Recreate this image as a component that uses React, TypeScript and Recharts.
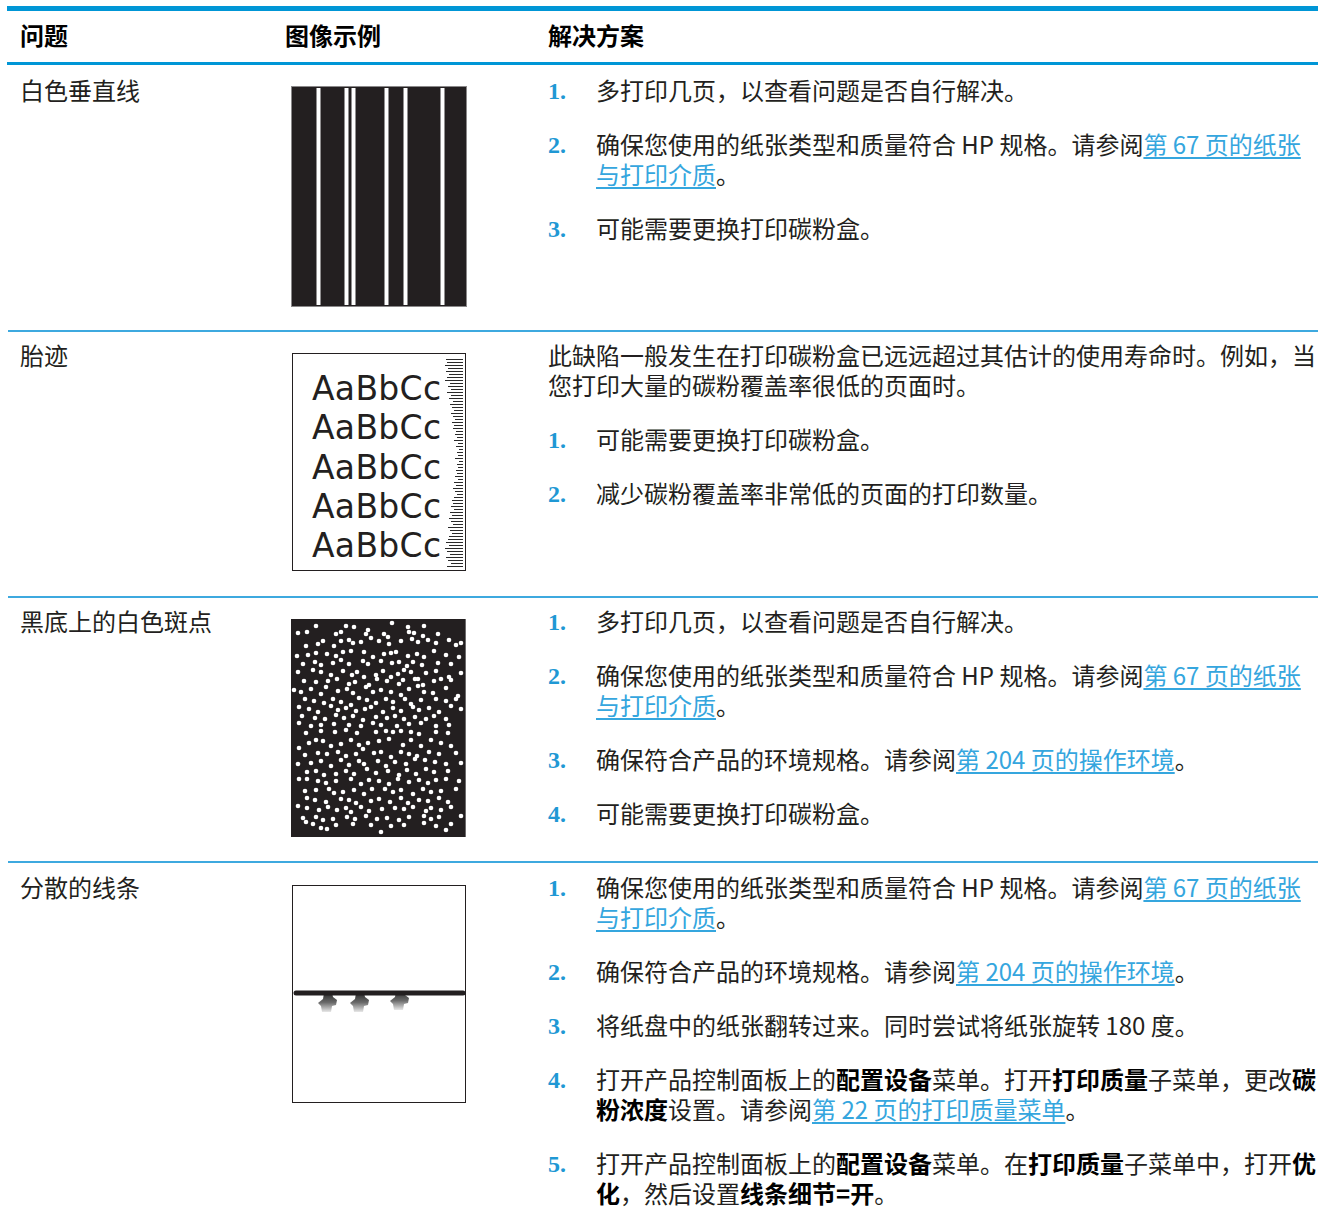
import React from 'react';
import {
  BarChart, Bar, XAxis, YAxis, ScatterChart, Scatter,
} from 'recharts';

const headers = ['问题', '图像示例', '解决方案'];
const problems = ['白色垂直线', '胎迹', '黑底上的白色斑点', '分散的线条'];

// solution text: **bold**, [[link]], \n = forced line break
const intro2 = '此缺陷一般发生在打印碳粉盒已远远超过其估计的使用寿命时。例如，当\n您打印大量的碳粉覆盖率很低的页面时。';
const steps1 = [
  '多打印几页，以查看问题是否自行解决。',
  '确保您使用的纸张类型和质量符合 HP 规格。请参阅[[第 67 页的纸张]]\n[[与打印介质]]。',
  '可能需要更换打印碳粉盒。',
];
const steps2 = [
  '可能需要更换打印碳粉盒。',
  '减少碳粉覆盖率非常低的页面的打印数量。',
];
const steps3 = [
  '多打印几页，以查看问题是否自行解决。',
  '确保您使用的纸张类型和质量符合 HP 规格。请参阅[[第 67 页的纸张]]\n[[与打印介质]]。',
  '确保符合产品的环境规格。请参阅[[第 204 页的操作环境]]。',
  '可能需要更换打印碳粉盒。',
];
const steps4 = [
  '确保您使用的纸张类型和质量符合 HP 规格。请参阅[[第 67 页的纸张]]\n[[与打印介质]]。',
  '确保符合产品的环境规格。请参阅[[第 204 页的操作环境]]。',
  '将纸盘中的纸张翻转过来。同时尝试将纸张旋转 180 度。',
  '打开产品控制面板上的**配置设备**菜单。打开**打印质量**子菜单，更改**碳**\n**粉浓度**设置。请参阅[[第 22 页的打印质量菜单]]。',
  '打开产品控制面板上的**配置设备**菜单。在**打印质量**子菜单中，打开**优**\n**化**，然后设置**线条细节=开**。',
];

// sample 1: x positions of the white streaks (px across a 176px page)
const whiteLines = [27, 55, 62, 95, 114, 151];

// sample 2: lengths of the little rule marks down the right edge
const ladder = [
  17, 16, 18, 15, 17, 14, 16, 18, 13, 15, 12, 16,
  12, 14, 10, 13, 11, 9, 12, 10, 8, 11, 9, 10,
  7, 8, 6, 9, 5, 7, 4, 6, 5, 8, 4, 6,
  5, 7, 6, 8, 5, 9, 7, 10, 8, 6, 9, 11,
  10, 12, 9, 13, 11, 14, 12, 10, 15, 13, 11, 14,
  15, 17, 14, 18, 16, 13, 17, 15, 12, 16,
];
const sampleText = ['AaBbCc', 'AaBbCc', 'AaBbCc', 'AaBbCc', 'AaBbCc'];

// sample 3: white specks, [x, y] in px on a 176x218 page
const specks = [
  [25, 7], [55, 7], [63, 8], [101, 4], [117, 8], [133, 7],
  [7, 14], [16, 13], [45, 15], [50, 13], [75, 15], [77, 11], [93, 15], [97, 18], [118, 13], [123, 14], [132, 17], [147, 15], [170, 24],
  [15, 27], [27, 25], [32, 22], [43, 27], [50, 22], [58, 21], [62, 24], [70, 23], [80, 19], [88, 22], [98, 25], [110, 22], [121, 20], [127, 23], [137, 21], [145, 24], [158, 21], [165, 26],
  [6, 37], [17, 36], [25, 34], [36, 35], [45, 37], [52, 33], [60, 32], [73, 33], [82, 38], [93, 35], [100, 34], [105, 33], [117, 37], [126, 35], [133, 38], [143, 32], [155, 36], [168, 38],
  [12, 45], [24, 43], [30, 46], [42, 44], [50, 41], [58, 45], [72, 42], [77, 45], [90, 42], [101, 44], [108, 43], [116, 47], [122, 43], [131, 46], [147, 44], [160, 45],
  [7, 53], [22, 51], [30, 53], [40, 56], [52, 52], [61, 56], [66, 53], [73, 58], [85, 56], [92, 52], [100, 58], [107, 55], [113, 51], [120, 53], [127, 60], [135, 54], [145, 52], [158, 58], [170, 54],
  [13, 62], [25, 63], [37, 62], [46, 60], [58, 65], [64, 63], [78, 66], [86, 60], [96, 62], [108, 65], [112, 61], [124, 60], [132, 66], [143, 62], [150, 60], [160, 61],
  [3, 71], [10, 73], [20, 70], [30, 75], [35, 68], [47, 72], [56, 70], [62, 74], [75, 68], [82, 73], [90, 71], [100, 73], [110, 76], [118, 70], [127, 67], [133, 73], [142, 74], [155, 69], [167, 77],
  [14, 80], [23, 82], [33, 84], [42, 80], [50, 83], [60, 86], [68, 79], [76, 81], [85, 84], [95, 80], [102, 83], [114, 80], [120, 85], [130, 81], [145, 80], [155, 82], [165, 80],
  [8, 88], [18, 90], [27, 93], [40, 87], [47, 91], [55, 89], [65, 92], [74, 90], [80, 88], [92, 93], [102, 89], [110, 92], [122, 88], [128, 91], [138, 89], [148, 93], [160, 87], [170, 90],
  [11, 97], [24, 99], [34, 100], [45, 96], [53, 99], [62, 97], [72, 101], [85, 98], [96, 99], [104, 97], [113, 100], [124, 98], [135, 100], [143, 97], [155, 100],
  [8, 104], [20, 107], [30, 106], [43, 105], [58, 106], [70, 107], [82, 104], [90, 106], [106, 107], [118, 105], [130, 104], [145, 107], [158, 106],
  [15, 114], [30, 112], [44, 113], [55, 111], [66, 114], [85, 113], [95, 112], [102, 113], [110, 112], [120, 113], [128, 115], [145, 113], [157, 114],
  [8, 129], [18, 124], [25, 121], [32, 122], [40, 127], [50, 125], [60, 121], [68, 126], [77, 124], [88, 122], [98, 120], [112, 126], [120, 121], [130, 127], [140, 121], [150, 124], [160, 127],
  [14, 136], [27, 134], [36, 135], [47, 133], [55, 137], [65, 135], [72, 130], [83, 134], [90, 133], [100, 138], [110, 133], [118, 135], [126, 137], [138, 133], [148, 135], [165, 134],
  [7, 145], [20, 144], [30, 142], [40, 147], [50, 141], [58, 146], [68, 142], [73, 145], [87, 142], [95, 147], [104, 143], [115, 145], [124, 140], [134, 141], [144, 143], [155, 145], [170, 144],
  [16, 153], [25, 152], [33, 156], [45, 155], [55, 152], [63, 155], [76, 150], [85, 154], [97, 152], [108, 156], [116, 151], [125, 155], [135, 150], [143, 153], [157, 152],
  [8, 160], [16, 160], [27, 162], [35, 164], [45, 162], [60, 160], [70, 165], [78, 161], [88, 162], [98, 165], [107, 160], [118, 163], [128, 161], [137, 164], [145, 161], [155, 160], [168, 162],
  [14, 172], [25, 171], [38, 170], [43, 174], [52, 173], [63, 171], [73, 175], [81, 170], [94, 170], [102, 173], [110, 171], [122, 175], [132, 170], [140, 173], [150, 172], [165, 170],
  [16, 179], [24, 181], [35, 183], [50, 180], [58, 181], [65, 184], [80, 182], [88, 180], [99, 183], [110, 179], [117, 184], [128, 181], [137, 182], [148, 179], [157, 183],
  [7, 187], [16, 189], [28, 191], [37, 188], [46, 191], [55, 189], [60, 193], [70, 188], [78, 192], [91, 190], [104, 189], [113, 190], [122, 188], [135, 192], [140, 189], [150, 191], [160, 188],
  [12, 199], [25, 198], [32, 201], [42, 200], [56, 198], [64, 200], [75, 197], [86, 200], [96, 199], [108, 201], [118, 198], [133, 197], [140, 200], [148, 198], [170, 197],
  [15, 203], [22, 205], [45, 206], [62, 205], [80, 206], [100, 207], [113, 206], [133, 204], [145, 207], [160, 205],
  [36, 210], [90, 213], [155, 211], [30, 209],
];

// sample 4: the smeared rule and the smudges hanging below it
const ruleLine = [[4, 108], [171, 108]];
const smudges = [[36, 118], [68, 118], [108, 116]];

const BLUE = '#0096d6';
const LINK = '#35a6de';
const INK = '#231f20';
const CJK = '"Noto Sans CJK SC", "Noto Sans", sans-serif';

function renderRich(src: string) {
  return src.split('\n').map((line, li) => (
    <div key={li} style={{ whiteSpace: 'nowrap', height: 30 }}>
      {line.split(/(\*\*[^*]+\*\*|\[\[[^\]]+\]\])/).filter(Boolean).map((seg, si) => {
        if (seg.startsWith('**')) return <b key={si} style={{ color: '#000' }}>{seg.slice(2, -2)}</b>;
        if (seg.startsWith('[[')) return <span key={si} style={{ color: LINK, textDecoration: 'underline', textUnderlineOffset: 3 }}>{seg.slice(2, -2)}</span>;
        return <span key={si}>{seg}</span>;
      })}
    </div>
  ));
}

function Steps({ items }: { items: string[] }) {
  return (
    <div>
      {items.map((s, i) => (
        <div key={i} style={{ position: 'relative', paddingLeft: 48, marginBottom: 24 }}>
          <span style={{
            position: 'absolute', left: 0, top: 1, fontFamily: '"Liberation Serif", serif',
            fontWeight: 700, fontSize: 24, lineHeight: '30px', color: '#1f98d4',
          }}>{i + 1}.</span>
          {renderRich(s)}
        </div>
      ))}
    </div>
  );
}

const pts = (arr: number[][]) => arr.map(([x, y]) => ({ x, y }));

function StreakSample() {
  const data = whiteLines.map((x) => ({ x, h: 1 }));
  return (
    <div style={{ width: 176, height: 221, background: INK, boxShadow: 'inset 0 0 0 1px #8a8889' }}>
      <BarChart width={176} height={221} data={data} margin={{ top: 2, right: 0, bottom: 2, left: 0 }}>
        <XAxis type="number" dataKey="x" domain={[0, 176]} hide />
        <YAxis type="number" domain={[0, 1]} hide />
        <Bar dataKey="h" barSize={4} fill="#fff" isAnimationActive={false} />
      </BarChart>
    </div>
  );
}

function TireSample() {
  const data = ladder.map((len, i) => ({ i, len }));
  return (
    <div style={{ position: 'relative', width: 174, height: 218, background: '#fff', boxShadow: `inset 0 0 0 1px ${INK}` }}>
      {sampleText.map((t, i) => (
        <div key={i} style={{
          position: 'absolute', left: 20, top: 16 + i * 39.3, fontFamily: '"DejaVu Sans", sans-serif',
          fontSize: 33, lineHeight: '40px', letterSpacing: 0.3, color: INK,
        }}>{t}</div>
      ))}
      <div style={{ position: 'absolute', left: 149, top: 5 }}>
        <BarChart width={22} height={210} data={data} layout="vertical" margin={{ top: 0, right: 0, bottom: 0, left: 0 }}>
          <XAxis type="number" domain={[0, 22]} reversed hide />
          <YAxis type="category" dataKey="i" hide />
          <Bar dataKey="len" barSize={1} fill="#2a2a2a" isAnimationActive={false} />
        </BarChart>
      </div>
    </div>
  );
}

function SpeckSample() {
  return (
    <div style={{ width: 175, height: 218, background: INK, boxShadow: 'inset -1px 0 0 0 #6d6b6c' }}>
      <ScatterChart width={175} height={218} margin={{ top: 0, right: 0, bottom: 0, left: 0 }}>
        <XAxis type="number" dataKey="x" domain={[0, 175]} hide />
        <YAxis type="number" dataKey="y" domain={[0, 218]} reversed hide />
        <Scatter data={pts(specks)} isAnimationActive={false}
          shape={(p: any) => <circle cx={p.cx} cy={p.cy} r={2.3} fill="#fff" />} />
      </ScatterChart>
    </div>
  );
}

function smudgeShape(p: any) {
  const { cx, cy, index } = p;
  const id = `smg${index}`;
  const d = `M${cx - 4} ${cy - 10} L${cx + 4} ${cy - 10} L${cx + 5} ${cy - 6} L${cx + 9} ${cy - 3} L${cx + 8} ${cy + 2}`
    + ` L${cx + 4} ${cy + 3} L${cx + 3} ${cy + 9} L${cx - 6} ${cy + 9} L${cx - 7} ${cy + 3} L${cx - 10} ${cy}`
    + ` L${cx - 5} ${cy - 4} Z`;
  return (
    <g>
      <defs>
        <linearGradient id={id} x1="0" y1="0" x2="0" y2="1">
          <stop offset="0%" stopColor="#2a2a2a" />
          <stop offset="50%" stopColor="#6a6a6a" />
          <stop offset="100%" stopColor="#e8e8e8" />
        </linearGradient>
      </defs>
      <path d={d} fill={`url(#${id})`} />
    </g>
  );
}

function ScatterLinesSample() {
  return (
    <div style={{ width: 174, height: 218, background: '#fff', boxShadow: `inset 0 0 0 1px ${INK}` }}>
      <ScatterChart width={174} height={218} margin={{ top: 0, right: 0, bottom: 0, left: 0 }}>
        <XAxis type="number" dataKey="x" domain={[0, 174]} hide />
        <YAxis type="number" dataKey="y" domain={[0, 218]} reversed hide />
        <Scatter data={pts(smudges)} isAnimationActive={false} shape={smudgeShape} />
        <Scatter data={pts(ruleLine)} isAnimationActive={false}
          line={{ stroke: INK, strokeWidth: 5, strokeLinecap: 'round' } as any}
          shape={() => <g />} />
      </ScatterChart>
    </div>
  );
}

const text: React.CSSProperties = {
  fontFamily: CJK, fontSize: 24, lineHeight: '30px', color: INK,
};

export default function App() {
  const rowTops = [75, 340, 606, 872];
  const samples = [<StreakSample />, <TireSample />, <SpeckSample />, <ScatterLinesSample />];
  const sampleLeft = [291, 292, 291, 292];
  const sampleTop = [86, 353, 619, 885];
  const solutions = [
    <Steps items={steps1} />,
    <div><div style={{ marginBottom: 24 }}>{renderRich(intro2)}</div><Steps items={steps2} /></div>,
    <Steps items={steps3} />,
    <Steps items={steps4} />,
  ];
  return (
    <div style={{ position: 'absolute', left: 0, top: 0, width: 1318, height: 1216, background: '#fff', overflow: 'hidden', ...text }}>
      <div style={{ position: 'absolute', left: 7, top: 6, width: 1311, height: 5, background: BLUE }} />
      {headers.map((h, i) => (
        <div key={h} style={{ position: 'absolute', left: [20, 285, 548][i], top: 20, fontWeight: 700, color: '#000' }}>{h}</div>
      ))}
      <div style={{ position: 'absolute', left: 7, top: 62, width: 1311, height: 3, background: BLUE }} />
      {[330, 596, 861].map((y) => (
        <div key={y} style={{ position: 'absolute', left: 8, top: y, width: 1310, height: 2, background: '#3ea9df' }} />
      ))}
      {problems.map((p, i) => (
        <React.Fragment key={p}>
          <div style={{ position: 'absolute', left: 20, top: rowTops[i] }}>{p}</div>
          <div style={{ position: 'absolute', left: sampleLeft[i], top: sampleTop[i] }}>{samples[i]}</div>
          <div style={{ position: 'absolute', left: 548, top: rowTops[i] }}>{solutions[i]}</div>
        </React.Fragment>
      ))}
    </div>
  );
}
